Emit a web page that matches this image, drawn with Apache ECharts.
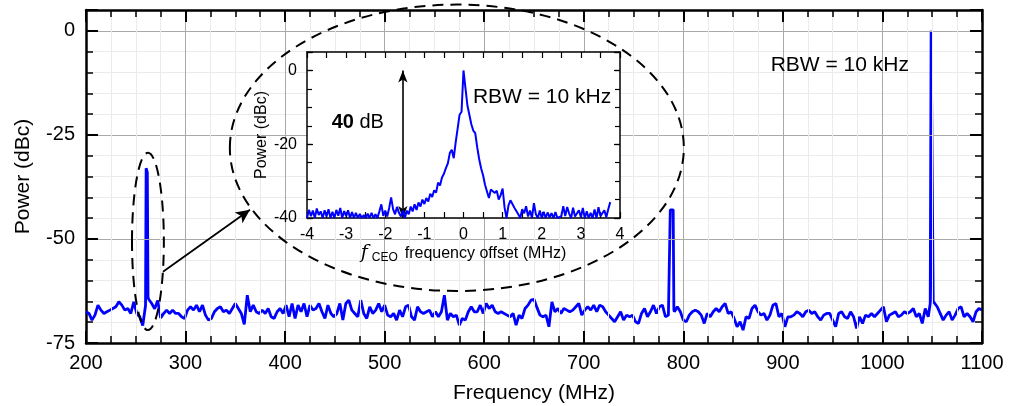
<!DOCTYPE html>
<html><head><meta charset="utf-8">
<script src="https://cdn.jsdelivr.net/npm/echarts@6/dist/echarts.min.js"></script>
<style>html,body{margin:0;padding:0;background:#fff}#c{width:1009px;height:406px}</style>
</head><body><div id="c"></div>
<script>
const FONT = 'Liberation Sans, Arial, Helvetica, sans-serif';

// ---- Main spectrum (MHz, dBc) ----
const mainFreqStart = 200;
const mainFreqStep = 3;
const mainNoise = [
 -67.5,-67.9,-69.5,-68.3,-65.9,-67.1,-67.9,-67.5,-67.1,-66.7,
 -66.3,-65.1,-65.9,-67.1,-66.7,-67.9,-65.1,-67.9,-68.7,-70.8,
 -66.0,-64.5,-65.5,-66.8,-64.8,-69.0,-67.9,-67.1,-67.9,-67.1,
 -67.9,-67.9,-68.7,-69.1,-67.1,-66.3,-67.1,-65.9,-67.5,-65.9,
 -68.3,-69.5,-69.1,-67.5,-66.7,-66.3,-67.5,-67.1,-67.9,-66.7,
 -65.5,-66.7,-67.9,-70.5,-63.5,-67.5,-65.9,-67.5,-67.9,-67.1,
 -67.9,-66.7,-68.7,-69.1,-67.5,-66.7,-67.9,-65.9,-68.7,-65.5,
 -69.1,-65.9,-67.5,-65.5,-68.7,-65.9,-67.1,-66.7,-65.5,-67.5,
 -69.1,-65.9,-67.9,-68.7,-67.9,-65.5,-69.5,-65.5,-64.7,-67.1,
 -67.9,-68.7,-64.7,-67.9,-69.1,-66.3,-67.9,-67.1,-65.5,-67.5,
 -65.9,-68.3,-68.7,-67.9,-69.5,-67.1,-68.7,-66.3,-65.9,-68.7,
 -69.5,-66.3,-67.5,-67.9,-67.5,-67.1,-68.7,-67.5,-68.7,-67.5,
 -63.5,-69.5,-67.9,-68.7,-68.3,-70.7,-69.1,-69.5,-67.5,-66.3,
 -67.5,-67.5,-65.9,-67.9,-65.5,-66.7,-65.9,-67.5,-67.9,-67.5,
 -67.9,-68.3,-68.7,-67.9,-70.7,-68.3,-69.1,-66.7,-65.9,-64.7,
 -64.5,-66.5,-68.3,-68.7,-68.3,-71.1,-65.1,-67.5,-66.7,-67.9,
 -66.7,-67.1,-67.5,-67.1,-66.3,-65.5,-68.3,-67.1,-66.3,-67.1,
 -65.9,-67.5,-65.9,-66.3,-67.5,-68.3,-69.1,-69.9,-68.7,-67.5,
 -69.5,-68.3,-68.7,-68.3,-69.9,-70.3,-67.9,-66.7,-68.7,-67.5,
 -65.9,-67.9,-66.3,-65.9,-68.7,-68.3,-68.0,-67.5,-66.3,-67.5,
 -69.5,-69.9,-68.3,-67.5,-67.1,-67.5,-68.3,-70.3,-67.9,-68.7,
 -67.5,-66.7,-67.5,-66.3,-65.5,-67.9,-67.5,-69.1,-71.1,-69.9,
 -71.9,-68.7,-69.1,-66.7,-65.9,-67.5,-68.3,-67.9,-69.5,-68.3,
 -65.9,-65.5,-68.7,-67.9,-71.1,-68.7,-68.7,-68.3,-67.5,-67.9,
 -68.7,-67.5,-67.1,-67.9,-67.5,-68.7,-69.5,-68.3,-67.9,-67.9,
 -69.5,-71.1,-67.9,-67.5,-68.7,-69.1,-67.5,-68.7,-71.5,-68.7,
 -70.3,-68.3,-68.7,-67.9,-68.7,-67.9,-67.1,-66.3,-69.9,-68.3,
 -67.9,-67.5,-68.7,-68.3,-67.5,-67.9,-67.5,-66.7,-68.7,-67.9,
 -70.3,-66.7,-68.7,-67.0,-65.1,-66.3,-67.9,-69.5,-68.3,-67.5,
 -69.5,-68.3,-66.7,-66.3,-68.7,-67.9,-68.7,-69.9,-67.5,-66.7,
 -67.1
];
const peak1Freq = [259.8, 260.4, 261.6, 262.3];
const peak1Val  = [-66, -33, -34, -64];
const peak2Freq = [786.2, 786.9, 789.8, 790.5];
const peak2Val  = [-68, -43, -43, -67];
const peak3Freq = [1048.0, 1048.9, 1050.0, 1051.0];
const peak3Val  = [-65.5, 0, 0, -65];

// ---- Inset: fCEO beat note (MHz offset, dBc) ----
const insetFreqStart = -4;
const insetFreqStep = 0.05;
const insetPower = [
 -40,-37.8,-39.5,-38.0,-40,-37.4,-39.2,-38.2,-40,-37.9,
 -39.6,-37.6,-40,-38.3,-40,-37.8,-39.4,-37.3,-40,-38.1,
 -39.5,-37.9,-40,-38.4,-40,-38.6,-40,-38.9,-40,-39.2,
 -40,-38.8,-40,-38.6,-40,-39.0,-40,-38.2,-36.3,-39.4,
 -38.0,-39.6,-37.3,-34.4,-37.6,-39.0,-37.0,-38.6,-39.6,-38.0,
 -40,-38.0,-39.0,-36.9,-38.2,-36.3,-37.8,-35.8,-36.9,-35.0,
 -36.2,-34.6,-35.5,-33.4,-34.3,-32.5,-33.1,-30.4,-31.2,-29.0,
 -28.0,-26.5,-25.2,-22.4,-21.5,-23.8,-19.5,-15.8,-12.0,-11.2,
 0,-4.8,-9.5,-12.0,-14.6,-16.3,-17.0,-20.8,-24.0,-26.5,
 -28.4,-31.0,-32.8,-34.6,-32.3,-31.8,-33.2,-32.6,-35.0,-33.8,
 -32.0,-37.2,-40,-36.6,-35.2,-35.0,-37.2,-37.0,-39.0,-40,
 -37.6,-38.7,-36.8,-39.6,-38.0,-40,-36.0,-39.0,-40,-38.0,
 -40,-38.3,-40,-38.5,-39.8,-38.7,-40,-38.4,-40,-40,
 -39.5,-36.8,-39.5,-37.0,-38.8,-40,-37.2,-39.6,-40,-37.9,
 -39.8,-37.3,-40,-38.2,-40,-38.6,-40,-37.7,-40,-37.1,
 -39.5,-40,-37.9,-39.8,-37.6,-35.7
];

// ---- Tick definitions ----
const mainXTicks = {min: 200, max: 1100, step: 100};
const mainYTicks = {min: -75, max: 5, step: 25, minor: 5};
const insetXTicks = {min: -4, max: 4, step: 1};
const insetYTicks = {min: -40, max: 5, step: 20, minor: 5};

function buildMain() {
  const peaks = [[peak1Freq, peak1Val], [peak2Freq, peak2Val], [peak3Freq, peak3Val]];
  const pts = [];
  mainNoise.forEach((v, i) => {
    const f = +(mainFreqStart + i * mainFreqStep).toFixed(3);
    if (peaks.some(([pf]) => f >= pf[0] && f <= pf[pf.length - 1])) return;
    pts.push([f, v]);
  });
  peaks.forEach(([pf, pv]) => pf.forEach((f, i) => pts.push([f, pv[i]])));
  pts.sort((a, b) => a[0] - b[0]);
  return pts;
}
function buildInset() {
  return insetPower.map((v, i) => [+(insetFreqStart + i * insetFreqStep).toFixed(3), v]);
}

const chart = echarts.init(document.getElementById('c'), null, {renderer: 'canvas'});

const black = '#000';
const frameMain = {show: true, onZero: false, lineStyle: {color: black, width: 2.5}};
const frameInset = {show: true, onZero: false, lineStyle: {color: black, width: 1.5}};
const noLine = {show: false, onZero: false};

const option = {
  animation: false,
  backgroundColor: '#fff',
  textStyle: {fontFamily: FONT},
  grid: [
    {left: 86, right: 27, top: 10, bottom: 63, show: false, containLabel: false, outerBoundsMode: 'none'},
    {left: 307, right: 389, top: 52, bottom: 188, show: true, backgroundColor: '#fff', borderWidth: 0, z: 5,
     containLabel: false, outerBoundsMode: 'none'}
  ],
  xAxis: [
    {gridIndex: 0, type: 'value', position: 'bottom', min: mainXTicks.min, max: mainXTicks.max, interval: mainXTicks.step,
     axisLine: frameMain, z: 3,
     axisTick: {show: true, inside: true, length: 12, lineStyle: {color: black, width: 2}},
     minorTick: {show: true, splitNumber: 4, length: 7, lineStyle: {color: black, width: 1.5}},
     splitLine: {show: true, showMinLine: false, showMaxLine: false, lineStyle: {color: '#a9a9a9', width: 1}},
     minorSplitLine: {show: true, lineStyle: {color: '#ebebeb', width: 1}},
     axisLabel: {fontSize: 20, color: black, margin: 10, fontFamily: FONT, formatter: v => String(v)},
     name: 'Frequency (MHz)', nameLocation: 'middle', nameGap: 40,
     nameTextStyle: {fontSize: 21, color: black, fontFamily: FONT}},
    {gridIndex: 0, type: 'value', position: 'top', min: mainXTicks.min, max: mainXTicks.max, interval: mainXTicks.step,
     axisLine: frameMain, z: 3,
     axisTick: {show: true, inside: true, length: 12, lineStyle: {color: black, width: 2}},
     minorTick: {show: true, splitNumber: 4, length: 7, lineStyle: {color: black, width: 1.5}},
     splitLine: {show: false}, axisLabel: {show: false}},
    {gridIndex: 1, type: 'value', position: 'bottom', min: insetXTicks.min, max: insetXTicks.max, interval: insetXTicks.step,
     axisLine: frameInset, z: 6,
     axisTick: {show: true, inside: true, length: 6, lineStyle: {color: black, width: 1.2}},
     minorTick: {show: true, splitNumber: 2, length: 6, lineStyle: {color: black, width: 1.2}},
     splitLine: {show: false},
     axisLabel: {fontSize: 16, color: black, margin: 9, fontFamily: FONT, formatter: v => String(v)},
     name: '{f|f}{s|CEO}frequency offset (MHz)', nameLocation: 'middle', nameGap: 24,
     nameTextStyle: {fontSize: 16, color: black, fontFamily: FONT,
       rich: {f: {fontFamily: 'DejaVu Serif, Liberation Serif, serif', fontStyle: 'italic', fontSize: 19, color: black},
              s: {fontSize: 12, color: black, padding: [9, 7, 0, 4], fontFamily: FONT}}}},
    {gridIndex: 1, type: 'value', position: 'top', min: insetXTicks.min, max: insetXTicks.max, interval: insetXTicks.step,
     axisLine: frameInset, z: 6,
     axisTick: {show: true, inside: true, length: 6, lineStyle: {color: black, width: 1.2}},
     minorTick: {show: true, splitNumber: 2, length: 6, lineStyle: {color: black, width: 1.2}},
     splitLine: {show: false}, axisLabel: {show: false}}
  ],
  yAxis: [
    // main left (minor step)
    {gridIndex: 0, type: 'value', position: 'left', min: mainYTicks.min, max: mainYTicks.max, interval: mainYTicks.minor,
     axisLine: frameMain, z: 2,
     axisTick: {show: true, inside: true, length: 7, lineStyle: {color: black, width: 1.5}},
     splitLine: {show: true, showMinLine: false, showMaxLine: false, lineStyle: {color: '#ebebeb', width: 1}},
     axisLabel: {fontSize: 20, color: black, margin: 11, fontFamily: FONT,
       formatter: v => (v % mainYTicks.step === 0 && v <= 0) ? String(v) : ''},
     name: 'Power (dBc)', nameLocation: 'middle', nameGap: 52,
     nameTextStyle: {fontSize: 21, color: black, fontFamily: FONT}},
    // main left (major step)
    {gridIndex: 0, type: 'value', position: 'left', min: mainYTicks.min, max: mainYTicks.max, interval: mainYTicks.step,
     axisLine: noLine, z: 3,
     axisTick: {show: true, inside: true, length: 12, lineStyle: {color: black, width: 2}},
     splitLine: {show: true, showMinLine: false, showMaxLine: false, lineStyle: {color: '#a9a9a9', width: 1}},
     axisLabel: {show: false}},
    // main right
    {gridIndex: 0, type: 'value', position: 'right', min: mainYTicks.min, max: mainYTicks.max, interval: mainYTicks.minor,
     axisLine: frameMain, z: 3,
     axisTick: {show: true, inside: true, length: 7, lineStyle: {color: black, width: 1.5}},
     splitLine: {show: false}, axisLabel: {show: false}},
    {gridIndex: 0, type: 'value', position: 'right', min: mainYTicks.min, max: mainYTicks.max, interval: mainYTicks.step,
     axisLine: noLine, z: 3,
     axisTick: {show: true, inside: true, length: 12, lineStyle: {color: black, width: 2}},
     splitLine: {show: false}, axisLabel: {show: false}},
    // inset left
    {gridIndex: 1, type: 'value', position: 'left', min: insetYTicks.min, max: insetYTicks.max, interval: insetYTicks.minor,
     axisLine: frameInset, z: 6,
     axisTick: {show: true, inside: true, length: 5, lineStyle: {color: black, width: 1.2}},
     splitLine: {show: false},
     axisLabel: {fontSize: 16, color: black, margin: 10, fontFamily: FONT,
       formatter: v => (v % insetYTicks.step === 0 && v <= 0) ? String(v) : ''},
     name: 'Power (dBc)', nameLocation: 'middle', nameGap: 28,
     nameTextStyle: {fontSize: 16, color: black, fontFamily: FONT}},
    {gridIndex: 1, type: 'value', position: 'left', min: insetYTicks.min, max: insetYTicks.max, interval: insetYTicks.step,
     axisLine: noLine, z: 6,
     axisTick: {show: true, inside: true, length: 6, lineStyle: {color: black, width: 1.2}},
     splitLine: {show: false}, axisLabel: {show: false}},
    // inset right
    {gridIndex: 1, type: 'value', position: 'right', min: insetYTicks.min, max: insetYTicks.max, interval: insetYTicks.minor,
     axisLine: frameInset, z: 6,
     axisTick: {show: true, inside: true, length: 5, lineStyle: {color: black, width: 1.2}},
     splitLine: {show: false}, axisLabel: {show: false}},
    {gridIndex: 1, type: 'value', position: 'right', min: insetYTicks.min, max: insetYTicks.max, interval: insetYTicks.step,
     axisLine: noLine, z: 6,
     axisTick: {show: true, inside: true, length: 6, lineStyle: {color: black, width: 1.2}},
     splitLine: {show: false}, axisLabel: {show: false}}
  ],
  series: [
    {type: 'line', xAxisIndex: 0, yAxisIndex: 0, data: buildMain(), showSymbol: false, symbol: 'none',
     lineStyle: {color: '#0000ff', width: 2.8}, z: 2, silent: true,
     markLine: {silent: true, symbol: ['none', 'arrow'], symbolSize: [10, 14], label: {show: false},
       lineStyle: {color: black, width: 1.8, type: 'solid'},
       data: [[{coord: [277.3, -57.9]}, {coord: [364.7, -43.0]}]]}},
    {type: 'line', xAxisIndex: 2, yAxisIndex: 4, data: buildInset(), showSymbol: false, symbol: 'none',
     lineStyle: {color: '#0000ff', width: 2}, z: 7, silent: true,
     markLine: {silent: true, symbol: ['arrow', 'arrow'], symbolSize: [7, 12], label: {show: false},
       lineStyle: {color: black, width: 1.6, type: 'solid'},
       data: [[{coord: [-1.55, -40]}, {coord: [-1.55, 0]}]]}}
  ]
};
chart.setOption(option);

const mainPx = p => chart.convertToPixel({xAxisIndex: 0, yAxisIndex: 0}, p);
const insetPx = p => chart.convertToPixel({xAxisIndex: 2, yAxisIndex: 4}, p);

function ellipseFrom(center, dx, dy) {
  const c = mainPx(center);
  const ex = mainPx([center[0] + dx, center[1]]);
  const ey = mainPx([center[0], center[1] + dy]);
  return {cx: c[0], cy: c[1], rx: Math.abs(ex[0] - c[0]), ry: Math.abs(c[1] - ey[1])};
}
const bigE = ellipseFrom([572.5, -28.1], 228, 34.4);
const smallE = ellipseFrom([262.2, -50.6], 16, 21.3);
const rbwMain = mainPx([887.7, -8.2]);
const rbwInset = insetPx([0.24, -7.2]);
const dbText = insetPx([-3.37, -14]);

chart.setOption({
  graphic: [
    {type: 'ellipse', shape: bigE, z: 4, silent: true,
     style: {fill: 'none', stroke: black, lineWidth: 2, lineDash: [11, 7]}},
    {type: 'ellipse', shape: smallE, z: 4, silent: true,
     style: {fill: 'none', stroke: black, lineWidth: 2, lineDash: [11, 7]}},
    {type: 'text', x: rbwMain[0], y: rbwMain[1], z: 8, silent: true,
     style: {text: 'RBW = 10 kHz', fontSize: 21, fontFamily: FONT, fill: black, verticalAlign: 'middle', align: 'left'}},
    {type: 'text', x: rbwInset[0], y: rbwInset[1], z: 20, silent: true,
     style: {text: 'RBW = 10 kHz', fontSize: 21, fontFamily: FONT, fill: black, verticalAlign: 'middle', align: 'left'}},
    {type: 'text', x: dbText[0], y: dbText[1], z: 20, silent: true,
     style: {text: '{b|40} {n|dB}', fontSize: 20, fontFamily: FONT, fill: black, verticalAlign: 'middle', align: 'left',
       rich: {b: {fontSize: 20, fontWeight: 'bold', fontFamily: FONT, fill: black}, n: {fontSize: 20, fontFamily: FONT, fill: black}}}}
  ]
});
</script>
</body></html>
